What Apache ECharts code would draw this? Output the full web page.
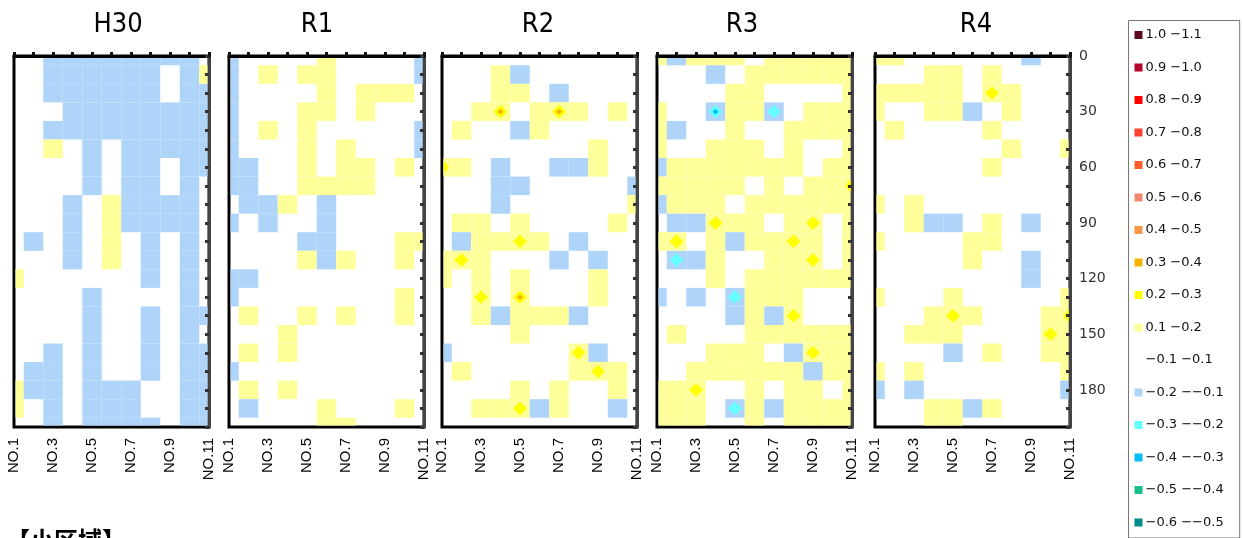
<!DOCTYPE html>
<html><head><meta charset="utf-8">
<script src="https://cdn.jsdelivr.net/npm/echarts@6/dist/echarts.min.js"></script>
<style>html,body{margin:0;padding:0;background:#fff}#c{width:1242px;height:538px}</style>
</head><body><div id="c"></div>
<script>
// ---- categories / axes ----
const panelNames = ['H30', 'R1', 'R2', 'R3', 'R4'];
const stations = [1, 2, 3, 4, 5, 6, 7, 8, 9, 10, 11];           // NO.1 .. NO.11
const depths = [0, 10, 20, 30, 40, 50, 60, 70, 80, 90, 100, 110, 120, 130, 140, 150, 160, 170, 180, 190, 200];
const depthTickLabels = [0, 30, 60, 90, 120, 150, 180];

// ---- legend bands ----
const bandLows   = [-0.6, -0.5, -0.4, -0.3, -0.2, -0.1, 0.1, 0.2, 0.3, 0.4, 0.5, 0.6, 0.7, 0.8, 0.9, 1.0];
const bandHighs  = [-0.5, -0.4, -0.3, -0.2, -0.1, 0.1, 0.2, 0.3, 0.4, 0.5, 0.6, 0.7, 0.8, 0.9, 1.0, 1.1];
const bandLabels = ['−0.6 −−0.5', '−0.5 −−0.4', '−0.4 −−0.3', '−0.3 −−0.2', '−0.2 −−0.1', '−0.1 −0.1',
                    '0.1 −0.2', '0.2 −0.3', '0.3 −0.4', '0.4 −0.5', '0.5 −0.6', '0.6 −0.7', '0.7 −0.8',
                    '0.8 −0.9', '0.9 −1.0', '1.0 −1.1'];
const bandColors = ['#008b8b', '#19c08c', '#00bff3', '#66ffff', '#aed4fa', '#ffffff',
                    '#ffff99', '#ffff00', '#f5b400', '#f79646', '#f4866a', '#ff5b2b', '#ff3f2f',
                    '#ff0000', '#b5002a', '#5a0a20'];

// ---- values: rows = depth 0..200 (step 10), columns = NO.1..NO.11 ----
const H30 = [
  [0, 0, -0.15, -0.15, -0.15, -0.15, -0.15, -0.15, -0.15, -0.15, 0],
  [0, 0, -0.15, -0.15, -0.15, -0.15, -0.15, -0.15, 0, -0.15, 0.12],
  [0, 0, -0.15, -0.15, -0.15, -0.15, -0.15, -0.15, 0, -0.15, -0.15],
  [0, 0, 0, -0.15, -0.15, -0.15, -0.15, -0.15, -0.15, -0.15, -0.15],
  [0, 0, -0.15, -0.15, -0.15, -0.15, -0.15, -0.15, -0.15, -0.15, -0.15],
  [0, 0, 0.15, 0, -0.15, 0, -0.15, -0.15, -0.15, -0.15, -0.15],
  [0, 0, 0, 0, -0.15, 0, -0.15, -0.15, 0, -0.15, -0.15],
  [0, 0, 0, 0, -0.15, 0, -0.15, -0.15, 0, -0.15, 0],
  [0, 0, 0, -0.15, 0, 0.15, -0.15, -0.15, -0.15, -0.15, 0],
  [0, 0, 0, -0.15, 0, 0.15, -0.15, -0.15, -0.15, -0.15, 0],
  [0, -0.15, 0, -0.15, 0, 0.15, 0, -0.15, 0, -0.15, 0],
  [0, 0, 0, -0.15, 0, 0.15, 0, -0.15, 0, -0.15, 0],
  [0.12, 0, 0, 0, 0, 0, 0, -0.12, 0, -0.15, 0],
  [0, 0, 0, 0, -0.15, 0, 0, 0, 0, -0.15, 0],
  [0, 0, 0, 0, -0.15, 0, 0, -0.15, 0, -0.15, -0.15],
  [0, 0, 0, 0, -0.15, 0, 0, -0.15, 0, -0.15, 0],
  [0, 0, -0.15, 0, -0.15, 0, 0, -0.15, 0, -0.15, -0.15],
  [0, -0.15, -0.15, 0, -0.15, 0, 0, -0.15, 0, -0.15, -0.15],
  [0.12, -0.15, -0.15, 0, -0.15, -0.15, -0.15, 0, 0, -0.15, -0.15],
  [0.12, 0, -0.15, 0, -0.15, -0.15, -0.15, 0, 0, -0.15, -0.15],
  [0, 0, -0.15, 0, -0.15, -0.15, -0.15, -0.12, 0, -0.15, -0.15]
];
const R1 = [
  [-0.15, 0, 0, 0, 0, 0.15, 0, 0, 0, 0, -0.15],
  [-0.15, 0, 0.15, 0, 0.15, 0.15, 0, 0, 0, 0, -0.15],
  [-0.15, 0, 0, 0, 0, 0.15, 0, 0.15, 0.15, 0.15, 0],
  [-0.15, 0, 0, 0, 0.15, 0.15, 0, 0.15, 0, 0, 0],
  [-0.15, 0, 0.15, 0, 0.15, 0, 0, 0, 0, 0, -0.15],
  [-0.15, 0, 0, 0, 0.15, 0, 0.15, 0, 0, 0, -0.15],
  [-0.15, -0.15, 0, 0, 0.15, 0, 0.15, 0.15, 0, 0.12, 0],
  [-0.15, -0.15, 0, 0, 0.15, 0.15, 0.15, 0.15, 0, 0, 0],
  [0, -0.15, -0.15, 0.15, 0, -0.15, 0, 0, 0, 0, 0],
  [-0.12, 0, -0.15, 0, 0, -0.15, 0, 0, 0, 0, 0],
  [0, 0, 0, 0, -0.15, -0.15, 0, 0, 0, 0.15, 0.15],
  [0, 0, 0, 0, 0.12, -0.12, 0.12, 0, 0, 0.15, 0],
  [-0.15, -0.15, 0, 0, 0, 0, 0, 0, 0, 0, 0],
  [-0.15, 0, 0, 0, 0, 0, 0, 0, 0, 0.15, 0],
  [0, 0.15, 0, 0, 0.15, 0, 0.15, 0, 0, 0.15, 0],
  [0, 0, 0, 0.15, 0, 0, 0, 0, 0, 0, 0],
  [0, 0.15, 0, 0.15, 0, 0, 0, 0, 0, 0, 0],
  [-0.12, 0, 0, 0, 0, 0, 0, 0, 0, 0, 0],
  [0, 0.15, 0, 0.15, 0, 0, 0, 0, 0, 0, 0],
  [0, -0.12, 0, 0, 0, 0.15, 0, 0, 0, 0.15, 0],
  [0, 0, 0, 0, 0, 0.15, 0.12, 0, 0, 0, 0]
];
const R2 = [
  [0, 0, 0, 0, 0, 0, 0, 0, 0, 0, 0],
  [0, 0, 0, 0.15, -0.12, 0, 0, 0, 0, 0, 0],
  [0, 0, 0, 0.15, 0.15, 0, -0.12, 0, 0, 0, 0],
  [0, 0, 0.15, 0.35, 0, 0.15, 0.35, 0.15, 0, 0.15, 0],
  [0, 0.15, 0, 0, -0.12, 0.15, 0, 0, 0, 0, 0],
  [0, 0, 0, 0, 0, 0, 0, 0, 0.15, 0, 0],
  [0.22, 0.15, 0, -0.15, 0, 0, -0.15, -0.15, 0.15, 0, 0],
  [0, 0, 0, -0.15, -0.15, 0, 0, 0, 0, 0, -0.12],
  [0, 0, 0, -0.15, 0, 0, 0, 0, 0, 0, 0.15],
  [0, 0.15, 0.15, 0, 0.15, 0, 0, 0, 0, 0.15, 0],
  [0, -0.12, 0.15, 0.15, 0.22, 0.15, 0, -0.12, 0, 0, 0],
  [0.15, 0.22, 0.15, 0, 0, 0, -0.12, 0, -0.12, 0, 0],
  [0.15, 0, 0.15, 0, 0.15, 0, 0, 0, 0.15, 0, 0],
  [0, 0, 0.22, 0, 0.32, 0, 0, 0, 0.15, 0, 0],
  [0, 0, 0.15, -0.12, 0.15, 0.15, 0.15, -0.12, 0, 0, 0],
  [0, 0, 0, 0, 0.15, 0, 0, 0, 0, 0, 0],
  [-0.12, 0, 0, 0, 0, 0, 0, 0.22, -0.12, 0, 0],
  [0, 0.12, 0, 0, 0, 0, 0, 0.15, 0.22, 0.15, 0],
  [0, 0, 0, 0, 0.15, 0, 0.15, 0, 0, 0.15, 0],
  [0, 0, 0.15, 0.15, 0.22, -0.12, 0.15, 0, 0, -0.12, 0],
  [0, 0, 0, 0, 0, 0, 0, 0, 0, 0, 0]
];
const R3 = [
  [0.15, -0.12, 0.15, 0.15, 0.15, 0, 0.15, 0.15, 0.15, 0.15, 0.15],
  [0, 0, 0, -0.15, 0, 0.15, 0.15, 0.15, 0.15, 0.15, 0.15],
  [0, 0, 0, 0, 0.15, 0.15, 0, 0, 0, 0, 0.15],
  [0.12, 0, 0, -0.32, 0.15, 0.15, -0.22, 0, 0.15, 0.15, 0.15],
  [0.12, -0.15, 0, 0, 0.15, 0, 0, 0.15, 0.15, 0.15, 0.15],
  [0.12, 0, 0, 0.15, 0.15, 0.15, 0, 0.15, 0, 0, 0.15],
  [-0.12, 0.15, 0.15, 0.15, 0.15, 0.15, 0.15, 0.15, 0, 0.15, 0.15],
  [0.15, 0.15, 0.15, 0.15, 0.15, 0, 0.15, 0, 0.15, 0.15, 0.22],
  [-0.12, 0.15, 0.15, 0.15, 0, 0.15, 0.15, 0.15, 0.15, 0.15, 0.15],
  [0, -0.15, -0.15, 0.22, 0.15, 0.15, 0, 0.15, 0.24, 0, 0.15],
  [0.12, 0.22, 0, 0.15, -0.15, 0.15, 0.15, 0.24, 0.18, 0, 0.15],
  [0, -0.22, -0.15, 0.15, 0, 0, 0.15, 0.15, 0.24, 0, 0.15],
  [0, 0, 0, 0.15, 0, 0.15, 0.15, 0.15, 0.15, 0.15, 0.15],
  [-0.12, 0, -0.15, 0, -0.22, 0.15, 0.15, 0.15, 0, 0, 0],
  [0, 0, 0, 0, -0.15, 0.15, -0.15, 0.22, 0, 0, 0],
  [0, 0.15, 0, 0, 0, 0.15, 0.15, 0.15, 0.15, 0.15, 0.15],
  [0, 0, 0, 0.15, 0.15, 0.15, 0, -0.15, 0.22, 0.15, 0.15],
  [0, 0, 0.15, 0.15, 0.15, 0.15, 0.15, 0.15, -0.15, 0.15, 0.15],
  [0.15, 0.15, 0.22, 0, 0, 0.15, 0, 0.15, 0.15, 0, 0.15],
  [0.15, 0.15, 0.15, 0, -0.22, 0.15, -0.15, 0.15, 0.15, 0.15, 0.15],
  [0.15, 0.15, 0.15, 0, 0, 0.15, 0, 0.15, 0.15, 0.15, 0.15]
];
const R4 = [
  [0.15, 0.15, 0, 0, 0, 0, 0, 0, -0.12, 0, 0],
  [0, 0, 0, 0.15, 0.15, 0, 0.15, 0, 0, 0, 0],
  [0.15, 0.15, 0.15, 0.15, 0.15, 0, 0.22, 0.15, 0, 0, 0],
  [0.15, 0, 0, 0.15, 0.15, -0.12, 0, 0.15, 0, 0, 0],
  [0, 0.15, 0, 0, 0, 0, 0.15, 0, 0, 0, 0],
  [0, 0, 0, 0, 0, 0, 0, 0.15, 0, 0, 0.12],
  [0, 0, 0, 0, 0, 0, 0.15, 0, 0, 0, 0],
  [0, 0, 0, 0, 0, 0, 0, 0, 0, 0, 0],
  [0.12, 0, 0.15, 0, 0, 0, 0, 0, 0, 0, 0],
  [0, 0, 0.15, -0.15, -0.15, 0, 0.15, 0, -0.12, 0, 0],
  [0.12, 0, 0, 0, 0, 0.15, 0.15, 0, 0, 0, 0],
  [0, 0, 0, 0, 0, 0.15, 0, 0, -0.15, 0, 0],
  [0, 0, 0, 0, 0, 0, 0, 0, -0.15, 0, 0],
  [0.12, 0, 0, 0, 0.15, 0, 0, 0, 0, 0, 0.15],
  [0, 0, 0, 0.15, 0.22, 0.15, 0, 0, 0, 0.15, 0.22],
  [0, 0, 0.15, 0.15, 0.15, 0, 0, 0, 0, 0.22, 0.15],
  [0, 0, 0, 0, -0.12, 0, 0.15, 0, 0, 0.15, 0.15],
  [0.12, 0, 0.15, 0, 0, 0, 0, 0, 0, 0, 0.15],
  [-0.12, 0, -0.12, 0, 0, 0, 0, 0, 0, 0, -0.12],
  [0, 0, 0, 0.15, 0.15, -0.12, 0.15, 0, 0, 0, 0],
  [0, 0, 0, 0.15, 0.15, 0, 0, 0, 0, 0, 0]
];
const panelValues = [H30, R1, R2, R3, R4];

// ---- layout ----
const gridLefts = [14, 229, 442, 657, 875];
const gridTop = 56, gridWidth = 195, gridHeight = 371;
const titleCenters = [118, 317, 538, 742, 976];

const WHITE = 5;
function bandIndex(v) {
  for (let i = 0; i < bandLows.length; i++) {
    if (v >= bandLows[i] && v < bandHighs[i]) return i;
  }
  return WHITE;
}

function renderItem(params, api) {
  const x = api.value(0), y = api.value(1), v = api.value(2);
  const bi = bandIndex(v);
  if (bi === WHITE) return null;
  const cs = params.coordSys;
  const clip = { x: cs.x + 1.5, y: cs.y + 1.5, width: cs.width - 3, height: cs.height - 3 };
  const p0 = api.coord([x - 0.5, y - 5]);
  const p1 = api.coord([x + 0.5, y + 5]);
  const c = api.coord([x, y]);
  const hw = Math.abs(p1[0] - p0[0]) / 2, hh = Math.abs(p1[1] - p0[1]) / 2;
  const step = bi > WHITE ? 1 : -1;
  const children = [];
  let k = 0;
  for (let b = WHITE + step; ; b += step) {
    const color = bandColors[b];
    if (k === 0) {
      const r = echarts.graphic.clipRectByRect({ x: c[0] - hw, y: c[1] - hh, width: 2 * hw, height: 2 * hh }, clip);
      if (r) children.push({ type: 'rect', shape: r, style: { fill: color } });
    } else {
      const s = Math.max(0.25, 0.72 - 0.4 * (k - 1));
      const pts = [[c[0], c[1] - hh * s], [c[0] + hw * s, c[1]], [c[0], c[1] + hh * s], [c[0] - hw * s, c[1]]];
      children.push({ type: 'polygon', shape: { points: echarts.graphic.clipPointsByRect(pts, clip) }, style: { fill: color } });
    }
    k++;
    if (b === bi) break;
  }
  return { type: 'group', children: children };
}

const grids = [], xAxes = [], yAxes = [], series = [], graphics = [];
panelNames.forEach(function (name, p) {
  grids.push({
    left: gridLefts[p], top: gridTop, width: gridWidth, height: gridHeight,
    show: true, borderColor: '#000', borderWidth: 3, backgroundColor: '#fff',
    containLabel: false, outerBoundsMode: 'none'
  });
  xAxes.push({
    type: 'value', gridIndex: p, min: 1, max: 11, interval: 1, z: 5,
    axisLine: { show: true, lineStyle: { color: '#000', width: 3 } },
    axisTick: { show: true, inside: true, length: 4, lineStyle: { color: '#111', width: 3 } },
    splitLine: { show: false },
    axisLabel: {
      show: true, rotate: 90, margin: 11, fontSize: 15, color: '#000',
      fontFamily: "'Liberation Sans', Arial, sans-serif",
      formatter: function (val) { return (val % 2 === 1) ? 'NO.' + val : ''; }
    }
  });
  yAxes.push({
    type: 'value', gridIndex: p, min: 0, max: 200, interval: 10, inverse: true, position: 'right', z: 5,
    axisLine: { show: true, lineStyle: { color: '#444', width: 3 } },
    axisTick: { show: true, inside: true, length: 4, lineStyle: { color: '#333', width: 3 } },
    splitLine: { show: false },
    axisLabel: {
      show: p === panelNames.length - 1, margin: 9, fontSize: 14, color: '#333',
      fontFamily: "'DejaVu Sans', sans-serif",
      formatter: function (val) { return depthTickLabels.indexOf(val) >= 0 ? String(val) : ''; }
    }
  });
  const data = [];
  panelValues[p].forEach(function (row, r) {
    row.forEach(function (v, ci) { data.push([stations[ci], depths[r], v]); });
  });
  series.push({
    type: 'custom', name: name, xAxisIndex: p, yAxisIndex: p, renderItem: renderItem,
    encode: { x: 0, y: 1 }, data: data, silent: true, z: 2
  });
  graphics.push({
    type: 'text', x: titleCenters[p], y: 25,
    style: {
      text: name, textAlign: 'center', textVerticalAlign: 'middle', fill: '#000',
      font: "27px 'Liberation Sans Narrow', 'DejaVu Sans Condensed', sans-serif"
    }
  });
});

graphics.push({
  type: 'text', x: 6, y: 528,
  style: { text: '【小区域】', textVerticalAlign: 'top', fill: '#000', font: "bold 24px 'Noto Sans CJK JP', sans-serif" }
});

const pieces = bandLows.map(function (lo, i) {
  return { gte: lo, lt: bandHighs[i], label: bandLabels[i], color: bandColors[i] };
});

const chart = echarts.init(document.getElementById('c'), null, { renderer: 'canvas' });
chart.setOption({
  animation: false,
  backgroundColor: '#fff',
  grid: grids,
  xAxis: xAxes,
  yAxis: yAxes,
  series: series,
  graphic: graphics,
  visualMap: {
    type: 'piecewise', seriesIndex: [0, 1, 2, 3, 4], dimension: 2,
    pieces: pieces, orient: 'vertical', left: 1128, top: 20,
    itemWidth: 8, itemHeight: 8, itemGap: 19.5, itemSymbol: 'rect', textGap: 3,
    align: 'left', selectedMode: false, hoverLink: false,
    borderColor: '#777', borderWidth: 1, padding: [8, 16, 9, 6], backgroundColor: '#fff',
    textStyle: { fontSize: 13, color: '#111', fontFamily: "'DejaVu Sans', sans-serif" }
  }
});
</script></body></html>
